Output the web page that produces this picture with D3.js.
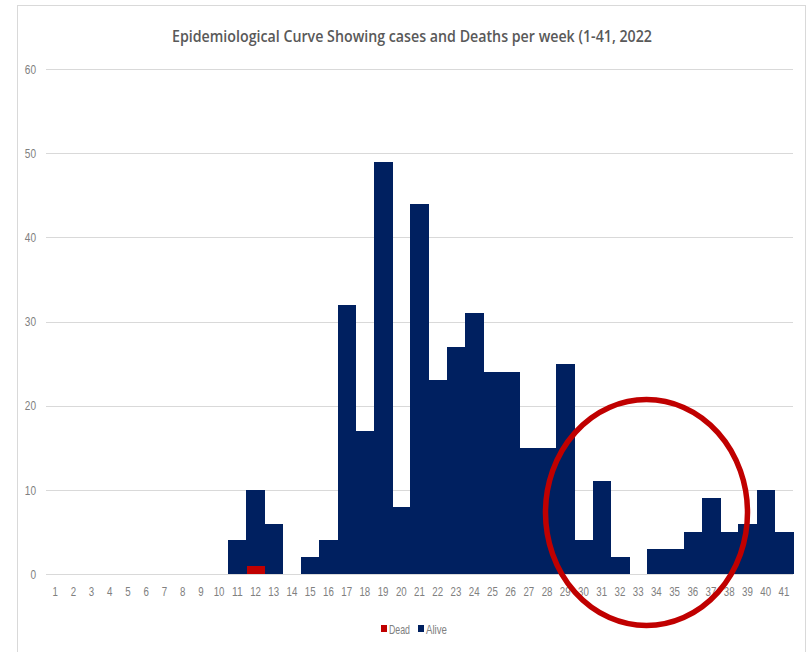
<!DOCTYPE html>
<html>
<head>
<meta charset="utf-8">
<script src="https://cdn.jsdelivr.net/npm/d3@7"></script>
<style>
  html, body { margin: 0; padding: 0; background: #fff; }
  svg { display: block; }
  text { font-family: "Liberation Sans", Arial, sans-serif; }
</style>
</head>
<body>
<svg id="chart" width="807" height="652"></svg>
<script>
// Epidemiological weeks 1–41
const weeks = d3.range(1, 42).map(String);

// Cases per week that survived
const alive = [0,0,0,0,0,0,0,0,0,0,
               4,9,6,0,2,4,32,17,49,8,
               44,23,27,31,24,24,15,15,25,4,
               11,2,0,3,3,5,9,5,6,10,5];

// Deaths per week
const dead  = [0,0,0,0,0,0,0,0,0,0,
               0,1,0,0,0,0,0,0,0,0,
               0,0,0,0,0,0,0,0,0,0,
               0,0,0,0,0,0,0,0,0,0,0];

const yTicks = [0, 10, 20, 30, 40, 50, 60];
const seriesNames = ["Dead", "Alive"];
const seriesColors = ["#c00000", "#002060"];

const svg = d3.select("#chart");
const W = 807, H = 652;
const margin = { left: 46, right: 14, top: 69, bottom: 78 };
const plotW = W - margin.left - margin.right;
const plotH = H - margin.top - margin.bottom;

// Narrow label helper: squeeze glyphs to a compact width per character
const narrow = (sel, perChar) => sel
  .attr("textLength", function () { return this.textContent.length * perChar; })
  .attr("lengthAdjust", "spacingAndGlyphs");

// Outer chart frame
svg.append("rect")
  .attr("x", 17.5).attr("y", 5.5)
  .attr("width", 788).attr("height", 660)
  .attr("fill", "none").attr("stroke", "#d9d9d9").attr("stroke-width", 1);

// Title
svg.append("text")
  .attr("x", 412).attr("y", 42)
  .attr("text-anchor", "middle")
  .attr("fill", "#595959")
  .style("font-family", "'Open Sans', 'Liberation Sans', sans-serif")
  .style("font-size", "17px")
  .style("font-weight", "600")
  .attr("textLength", 480)
  .attr("lengthAdjust", "spacingAndGlyphs")
  .text("Epidemiological Curve Showing cases and Deaths per week (1-41, 2022");

const g = svg.append("g").attr("transform", `translate(${margin.left},${margin.top})`);

const x = d3.scaleBand().domain(weeks).range([0, plotW]).padding(0);
const y = d3.scaleLinear().domain([0, 60]).range([plotH, 0]);

// Horizontal gridlines
g.append("g")
  .selectAll("line")
  .data(yTicks)
  .join("line")
  .attr("x1", 0).attr("x2", plotW)
  .attr("y1", d => Math.round(y(d)) + 0.5)
  .attr("y2", d => Math.round(y(d)) + 0.5)
  .attr("stroke", "#d9d9d9").attr("stroke-width", 1.2);

// Y axis labels
const yAxis = d3.axisLeft(y).tickValues(yTicks).tickSize(0).tickPadding(10);
g.append("g").call(yAxis)
  .call(s => s.select(".domain").remove())
  .call(s => s.selectAll("text")
    .attr("fill", "#808080")
    .style("font-size", "13px")
    .call(narrow, 5.6));

// Stacked bars: dead at the base, alive on top
const stackData = weeks.map((w, i) => ({ week: w, Dead: dead[i], Alive: alive[i] }));
const stacked = d3.stack().keys(seriesNames)(stackData);

g.append("g")
  .attr("shape-rendering", "crispEdges")
  .selectAll("g")
  .data(stacked)
  .join("g")
  .attr("fill", (d, i) => seriesColors[i])
  .selectAll("rect")
  .data(d => d.filter(p => p[1] - p[0] > 0))
  .join("rect")
  .attr("x", d => x(d.data.week))
  .attr("width", x.bandwidth() + 0.5)
  .attr("y", d => y(d[1]))
  .attr("height", d => y(d[0]) - y(d[1]));

// X axis labels
const xAxis = d3.axisBottom(x).tickSize(0).tickPadding(13);
g.append("g")
  .attr("transform", `translate(0,${plotH})`)
  .call(xAxis)
  .call(s => s.select(".domain").remove())
  .call(s => s.selectAll("text")
    .attr("fill", "#808080")
    .style("font-size", "13px")
    .call(narrow, 5.4));

// Legend
const legend = svg.append("g").attr("transform", "translate(381,630)");
const legendItems = [
  { name: "Dead", color: seriesColors[0], dx: 0 },
  { name: "Alive", color: seriesColors[1], dx: 37 }
];
const li = legend.selectAll("g").data(legendItems).join("g")
  .attr("transform", d => `translate(${d.dx},0)`);
li.append("rect").attr("x", 0).attr("y", -5).attr("width", 6).attr("height", 7)
  .attr("fill", d => d.color);
li.append("text").attr("x", 8).attr("y", 3.5)
  .attr("fill", "#808080").style("font-size", "13px")
  .attr("textLength", 21).attr("lengthAdjust", "spacingAndGlyphs")
  .text(d => d.name);

// Highlight of the late-season weeks (29–38)
svg.append("ellipse")
  .attr("cx", 646.5).attr("cy", 512.5)
  .attr("rx", 101).attr("ry", 113)
  .attr("fill", "none")
  .attr("stroke", "#c00000")
  .attr("stroke-width", 5.5);
</script>
</body>
</html>
